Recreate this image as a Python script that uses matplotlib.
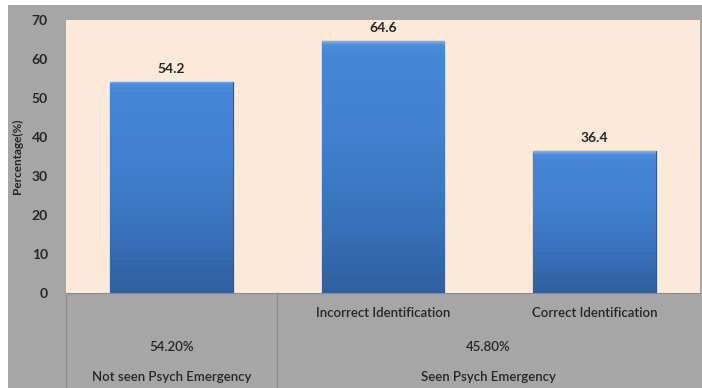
import numpy as np
import matplotlib
matplotlib.use("Agg")
import matplotlib.pyplot as plt
from matplotlib.patches import Rectangle
from matplotlib.colors import LinearSegmentedColormap

# Chart data
categories = ["", "Incorrect Identification", "Correct Identification"]
values = [54.2, 64.6, 36.4]
groups = ["Not seen Psych Emergency", "Seen Psych Emergency"]
group_shares = ["54.20%", "45.80%"]
group_sizes = [1, 2]
y_ticks = [0, 10, 20, 30, 40, 50, 60, 70]

plt.rcParams['font.family'] = ['Lato', 'DejaVu Sans']
text_color = '#262626'
grey = '#a6a6a6'
peach = '#fde9d9'

fig = plt.figure(figsize=(7.02, 3.88), dpi=100, facecolor='white')
fig.patches.append(Rectangle((8 / 702, 0), 1 - 8 / 702, 1 - 5 / 388, transform=fig.transFigure,
                             facecolor=grey, edgecolor='none', zorder=-10))

ax = fig.add_axes([66 / 702, 1 - 293 / 388, 634 / 702, 273 / 388])
ax.set_facecolor(peach)
x = np.arange(len(values))
bars = ax.bar(x, values, width=0.58, color='#3c78c6', edgecolor='#2b5793', linewidth=0.9, zorder=2)

# vertical gradient inside each bar, soft light bevel at the top
cmap = LinearSegmentedColormap.from_list('bluegrad', ['#30609f', '#3a73bd', '#4181d0', '#4486d6', '#7aaeea'])
for b in bars:
    bx, by, bh = b.get_x(), b.get_y(), b.get_height()
    g = np.linspace(0, 0.8, 300)
    nb = max(2, int(round(300 * 0.8 / bh)))
    g[-nb:] = np.linspace(0.85, 1.0, nb)
    im = ax.imshow(g.reshape(-1, 1), cmap=cmap, aspect='auto', origin='lower', vmin=0, vmax=1,
                   extent=[bx, bx + b.get_width(), by, by + bh], zorder=2.5)
    im.set_clip_path(b)

ax.set_xlim(-0.5, len(values) - 0.5)
ax.set_ylim(0, 70)
ax.set_yticks(y_ticks)
ax.tick_params(axis='y', length=0, pad=13, labelsize=10, labelcolor=text_color)
for lbl in ax.get_yticklabels():
    lbl.set_fontweight('bold')
ax.set_xticks([])
for s in ax.spines.values():
    s.set_visible(False)
ax.set_ylabel('Percentage(%)', fontsize=8.5, fontweight='bold', color=text_color, labelpad=6)

for xi, v in zip(x, values):
    ax.annotate(f'{v}', (xi, v), xytext=(0, 5), textcoords='offset points', ha='center', va='bottom',
                fontsize=10, fontweight='bold', color=text_color)

# multi-level category table under the axis
trans = ax.get_xaxis_transform()
row_y = [-0.073, -0.198, -0.308]
for xi, c in zip(x, categories):
    ax.text(xi, row_y[0], c, transform=trans, ha='center', va='center', fontsize=9.5,
            fontweight='semibold', color=text_color, clip_on=False)
start = 0
for g, share, n in zip(groups, group_shares, group_sizes):
    xc = start + (n - 1) / 2
    ax.text(xc, row_y[1], share, transform=trans, ha='center', va='center', fontsize=9.5,
            fontweight='semibold', color=text_color, clip_on=False)
    ax.text(xc, row_y[2], g, transform=trans, ha='center', va='center', fontsize=9.5,
            fontweight='semibold', color=text_color, clip_on=False)
    ax.plot([start - 0.5, start - 0.5], [0, -0.36], transform=trans, color='#8c8c8c', lw=0.8, clip_on=False)
    start += n
ax.plot([-0.5, len(values) - 0.5], [0, 0], transform=trans, color='#8c8c8c', lw=0.8, clip_on=False)

fig.savefig('out.png', dpi=100, facecolor='white')
